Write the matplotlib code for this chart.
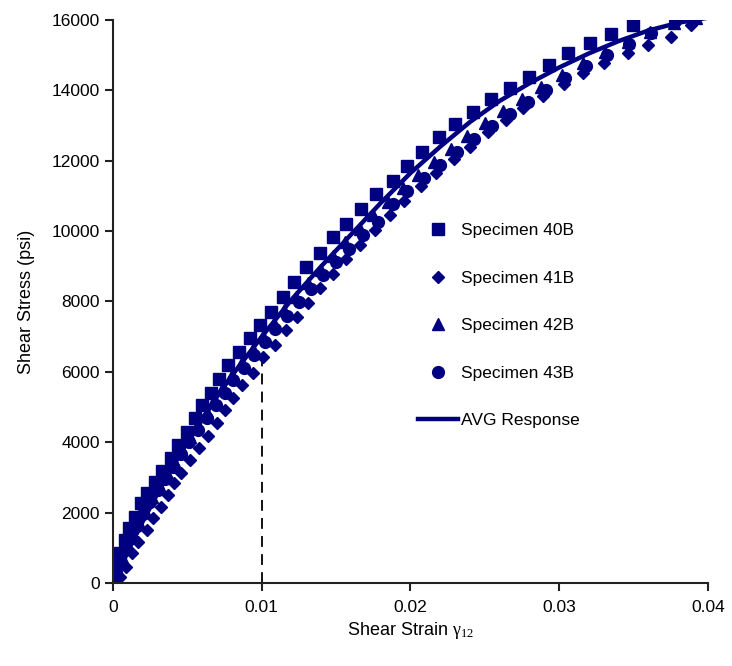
import matplotlib.pyplot as plt

plt.rcParams['font.family'] = ['Liberation Sans', 'DejaVu Sans']
plt.rcParams['mathtext.fontset'] = 'custom'
plt.rcParams['mathtext.rm'] = 'Liberation Serif'
plt.rcParams['mathtext.it'] = 'Liberation Serif'

navy = '#000080'

# Specimen 40B (squares)
strain_40b = [0.0000, 0.0001, 0.0005, 0.0008, 0.0011, 0.0015, 0.0019, 0.0023, 0.0028, 0.0033,
              0.0039, 0.0044, 0.0050, 0.0055, 0.0060, 0.0066, 0.0071, 0.0077, 0.0085, 0.0092,
              0.0099, 0.0106, 0.0114, 0.0122, 0.0130, 0.0139, 0.0148, 0.0157, 0.0167, 0.0177,
              0.0188, 0.0198, 0.0208, 0.0219, 0.0230, 0.0242, 0.0254, 0.0267, 0.0280, 0.0293,
              0.0306, 0.0321, 0.0335, 0.0350]
stress_40b = [150, 550, 850, 1220, 1560, 1880, 2270, 2560, 2860, 3180,
              3560, 3920, 4290, 4690, 5060, 5400, 5800, 6200, 6570, 6960,
              7330, 7700, 8130, 8550, 8990, 9390, 9830, 10210, 10630, 11060,
              11430, 11850, 12240, 12670, 13040, 13380, 13750, 14070, 14380, 14730,
              15060, 15350, 15600, 15860]

# Specimen 41B (diamonds)
strain_41b = [0.0000, 0.0005, 0.0009, 0.0013, 0.0017, 0.0023, 0.0027, 0.0032, 0.0037, 0.0041,
              0.0046, 0.0052, 0.0058, 0.0064, 0.0070, 0.0075, 0.0081, 0.0087, 0.0094, 0.0101,
              0.0109, 0.0116, 0.0124, 0.0131, 0.0139, 0.0148, 0.0157, 0.0166, 0.0176, 0.0186,
              0.0196, 0.0207, 0.0217, 0.0229, 0.0240, 0.0252, 0.0264, 0.0276, 0.0289, 0.0303,
              0.0316, 0.0330, 0.0346, 0.0360, 0.0375, 0.0389]
stress_41b = [0, 170, 460, 850, 1170, 1510, 1850, 2160, 2500, 2840,
              3140, 3500, 3840, 4180, 4550, 4920, 5260, 5630, 5970, 6420,
              6760, 7190, 7560, 7960, 8380, 8780, 9210, 9610, 10030, 10460,
              10860, 11280, 11650, 12050, 12390, 12820, 13160, 13500, 13840, 14180,
              14490, 14780, 15060, 15290, 15520, 15870]

# Specimen 42B (triangles)
strain_42b = [0.0001, 0.0003, 0.0006, 0.0009, 0.0013, 0.0017, 0.0021, 0.0026, 0.0031, 0.0036,
              0.0041, 0.0046, 0.0052, 0.0057, 0.0063, 0.0068, 0.0074, 0.0080, 0.0087, 0.0094,
              0.0101, 0.0108, 0.0115, 0.0123, 0.0131, 0.0140, 0.0148, 0.0156, 0.0166, 0.0175,
              0.0185, 0.0195, 0.0205, 0.0216, 0.0227, 0.0238, 0.0250, 0.0262, 0.0275, 0.0288,
              0.0302, 0.0316, 0.0331, 0.0346, 0.0361, 0.0377, 0.0392]
stress_42b = [100, 400, 750, 1080, 1420, 1760, 2100, 2440, 2780, 3120,
              3460, 3800, 4150, 4500, 4850, 5200, 5560, 5920, 6280, 6650,
              7020, 7400, 7760, 8130, 8520, 8900, 9290, 9680, 10060, 10450,
              10830, 11220, 11590, 11960, 12330, 12700, 13060, 13410, 13760, 14100,
              14440, 14770, 15080, 15380, 15650, 15900, 16050]

# Specimen 43B (circles)
strain_43b = [0.0000, 0.0002, 0.0005, 0.0008, 0.0012, 0.0016, 0.0020, 0.0025, 0.0030, 0.0035,
              0.0040, 0.0046, 0.0051, 0.0057, 0.0063, 0.0069, 0.0075, 0.0081, 0.0088, 0.0095,
              0.0102, 0.0109, 0.0117, 0.0125, 0.0133, 0.0141, 0.0150, 0.0159, 0.0168, 0.0178,
              0.0188, 0.0198, 0.0209, 0.0220, 0.0231, 0.0243, 0.0255, 0.0267, 0.0279, 0.0291,
              0.0304, 0.0318, 0.0332, 0.0347, 0.0362, 0.0378]
stress_43b = [50, 300, 620, 950, 1280, 1610, 1950, 2290, 2630, 2970,
              3310, 3660, 4000, 4350, 4700, 5050, 5400, 5760, 6120, 6490,
              6860, 7230, 7600, 7980, 8360, 8740, 9120, 9500, 9880, 10260,
              10760, 11130, 11500, 11880, 12250, 12620, 12980, 13330, 13680, 14020,
              14350, 14680, 15000, 15310, 15620, 15980]

# AVG response curve
strain_avg = [0.0, 0.001, 0.002, 0.003, 0.004, 0.005, 0.006, 0.007, 0.008, 0.009,
              0.010, 0.012, 0.014, 0.016, 0.018, 0.020, 0.022, 0.024, 0.026, 0.028,
              0.030, 0.032, 0.034, 0.036, 0.038, 0.0398]
stress_avg = [0, 900, 1750, 2550, 3300, 4000, 4650, 5300, 5900, 6450,
              7000, 8050, 9000, 9900, 10800, 11650, 12400, 13100, 13700, 14200,
              14650, 15050, 15400, 15700, 15920, 16050]

# dashed marker line
dash_x = [0.01, 0.01]
dash_y = [0, 6400]

fig = plt.figure(figsize=(7.32, 6.66), dpi=100)
ax = fig.add_axes([0.1544, 0.1246, 0.8126, 0.8454])

ax.plot(dash_x, dash_y, color='black', lw=1.3, ls=(0, (6, 4)), zorder=1)
ax.plot(strain_40b, stress_40b, 's', color=navy, ms=8, ls='none', label='Specimen 40B')
ax.plot(strain_41b, stress_41b, 'D', color=navy, ms=6, ls='none', label='Specimen 41B')
ax.plot(strain_42b, stress_42b, '^', color=navy, ms=9, ls='none', label='Specimen 42B')
ax.plot(strain_43b, stress_43b, 'o', color=navy, ms=8.5, ls='none', label='Specimen 43B')
ax.plot(strain_avg, stress_avg, '-', color=navy, lw=3.2, label='AVG Response')

ax.set_xlim(0, 0.04)
ax.set_ylim(0, 16000)
ax.set_xticks([0, 0.01, 0.02, 0.03, 0.04])
ax.set_xticklabels(['0', '0.01', '0.02', '0.03', '0.04'])
ax.set_yticks(range(0, 16001, 2000))

for s in ['top', 'right']:
    ax.spines[s].set_visible(False)
for s in ['left', 'bottom']:
    ax.spines[s].set_linewidth(1.5)
    ax.spines[s].set_color('#222222')
ax.tick_params(direction='out', length=6, width=1.5, labelsize=12.5, color='#222222')
ax.tick_params(axis='x', pad=6)

ax.set_xlabel(r'Shear Strain $\mathrm{\gamma}_{12}$', fontsize=13, labelpad=4)
ax.set_ylabel('Shear Stress (psi)', fontsize=13, labelpad=12)

ax.legend(loc='upper left', bbox_to_anchor=(0.487, 0.667), frameon=False,
          fontsize=12.5, labelspacing=1.86, handlelength=2.3, handletextpad=0.15)

fig.savefig('out.png', dpi=100)
